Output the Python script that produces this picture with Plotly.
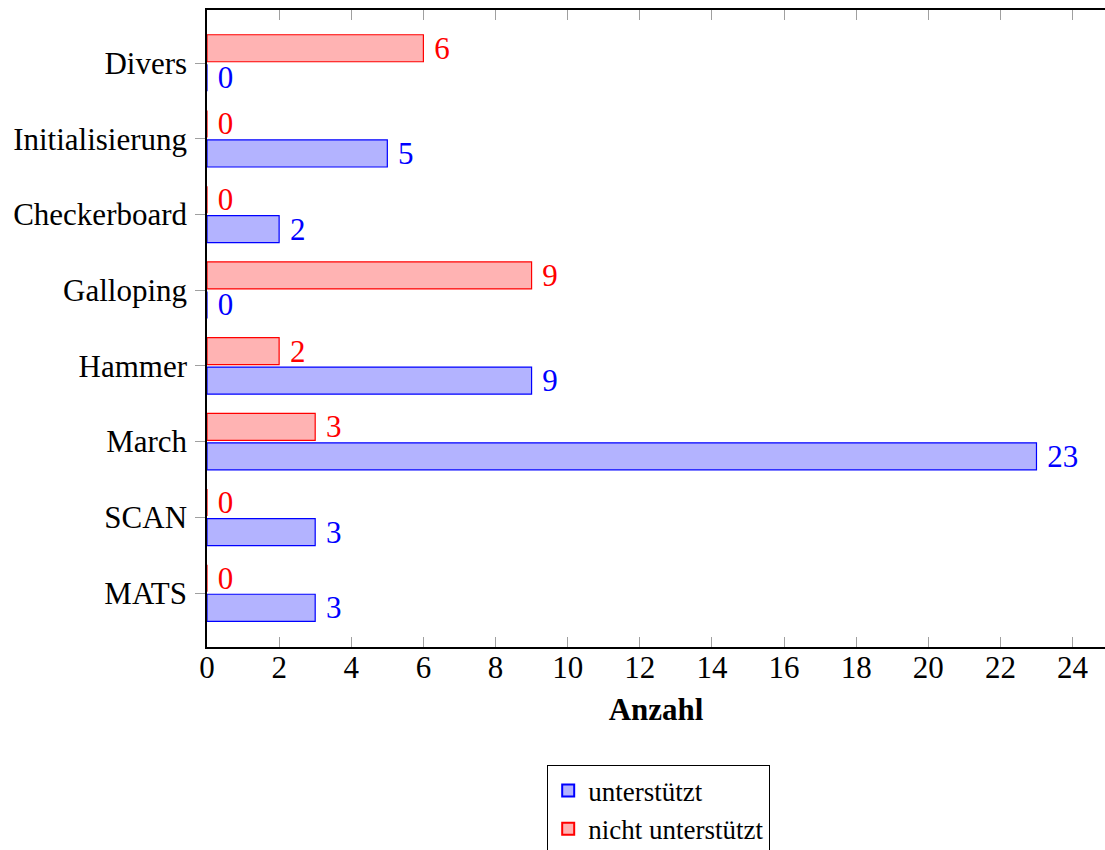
import plotly.graph_objects as go

categories = ["MATS", "SCAN", "March", "Hammer", "Galloping", "Checkerboard", "Initialisierung", "Divers"]
supported = [3, 3, 23, 9, 0, 2, 5, 0]
not_supported = [0, 0, 3, 2, 9, 0, 0, 6]
x_ticks = list(range(0, 25, 2))

FONT = "Liberation Serif"
NB = "\u00a0"

fig = go.Figure()
fig.add_trace(go.Bar(
    y=categories, x=supported, orientation="h", name="unterstützt",
    marker=dict(color="rgb(179,179,255)", line=dict(color="rgb(0,0,255)", width=1.2)),
    text=[NB + str(v) for v in supported], textposition="outside",
    textfont=dict(color="rgb(0,0,255)", size=31, family=FONT),
    constraintext="none", cliponaxis=False,
))
fig.add_trace(go.Bar(
    y=categories, x=not_supported, orientation="h", name="nicht unterstützt",
    marker=dict(color="rgb(255,179,179)", line=dict(color="rgb(255,0,0)", width=1.2)),
    text=[NB + str(v) for v in not_supported], textposition="outside",
    textfont=dict(color="rgb(255,0,0)", size=31, family=FONT),
    constraintext="none", cliponaxis=False,
))

fig.update_layout(
    width=1105, height=850,
    margin=dict(l=207, r=0, t=10, b=203, autoexpand=False),
    plot_bgcolor="white", paper_bgcolor="white",
    font=dict(family=FONT, size=31, color="black"),
    barmode="group", bargap=0.22, bargroupgap=0.085,
    showlegend=True,
    legend=dict(
        x=0.503, xanchor="center", y=-0.186, yanchor="top",
        bordercolor="black", borderwidth=1, bgcolor="white",
        font=dict(family=FONT, size=27, color="black"),
        tracegroupgap=0, itemsizing="constant", itemwidth=30,
    ),
)
fig.update_xaxes(
    range=[0, 24.9], tickvals=x_ticks, ticktext=[str(v) for v in x_ticks],
    ticks="inside", ticklen=10, tickcolor="rgb(160,160,160)", tickwidth=1,
    ticklabelstandoff=-8,
    showline=True, linecolor="black", linewidth=1.5, mirror="ticks",
    showgrid=False, zeroline=False,
    title=dict(text="<b>Anzahl</b>", font=dict(family=FONT, size=31), standoff=14),
)
fig.update_yaxes(
    type="category", categoryorder="array", categoryarray=categories,
    range=[-0.713, 7.70],
    ticks="outside", ticklen=10, tickcolor="rgb(160,160,160)", tickwidth=1,
    ticklabelstandoff=2,
    showline=True, linecolor="black", linewidth=1.5,
    showgrid=False, zeroline=False,
)

fig.write_html("out.html")
